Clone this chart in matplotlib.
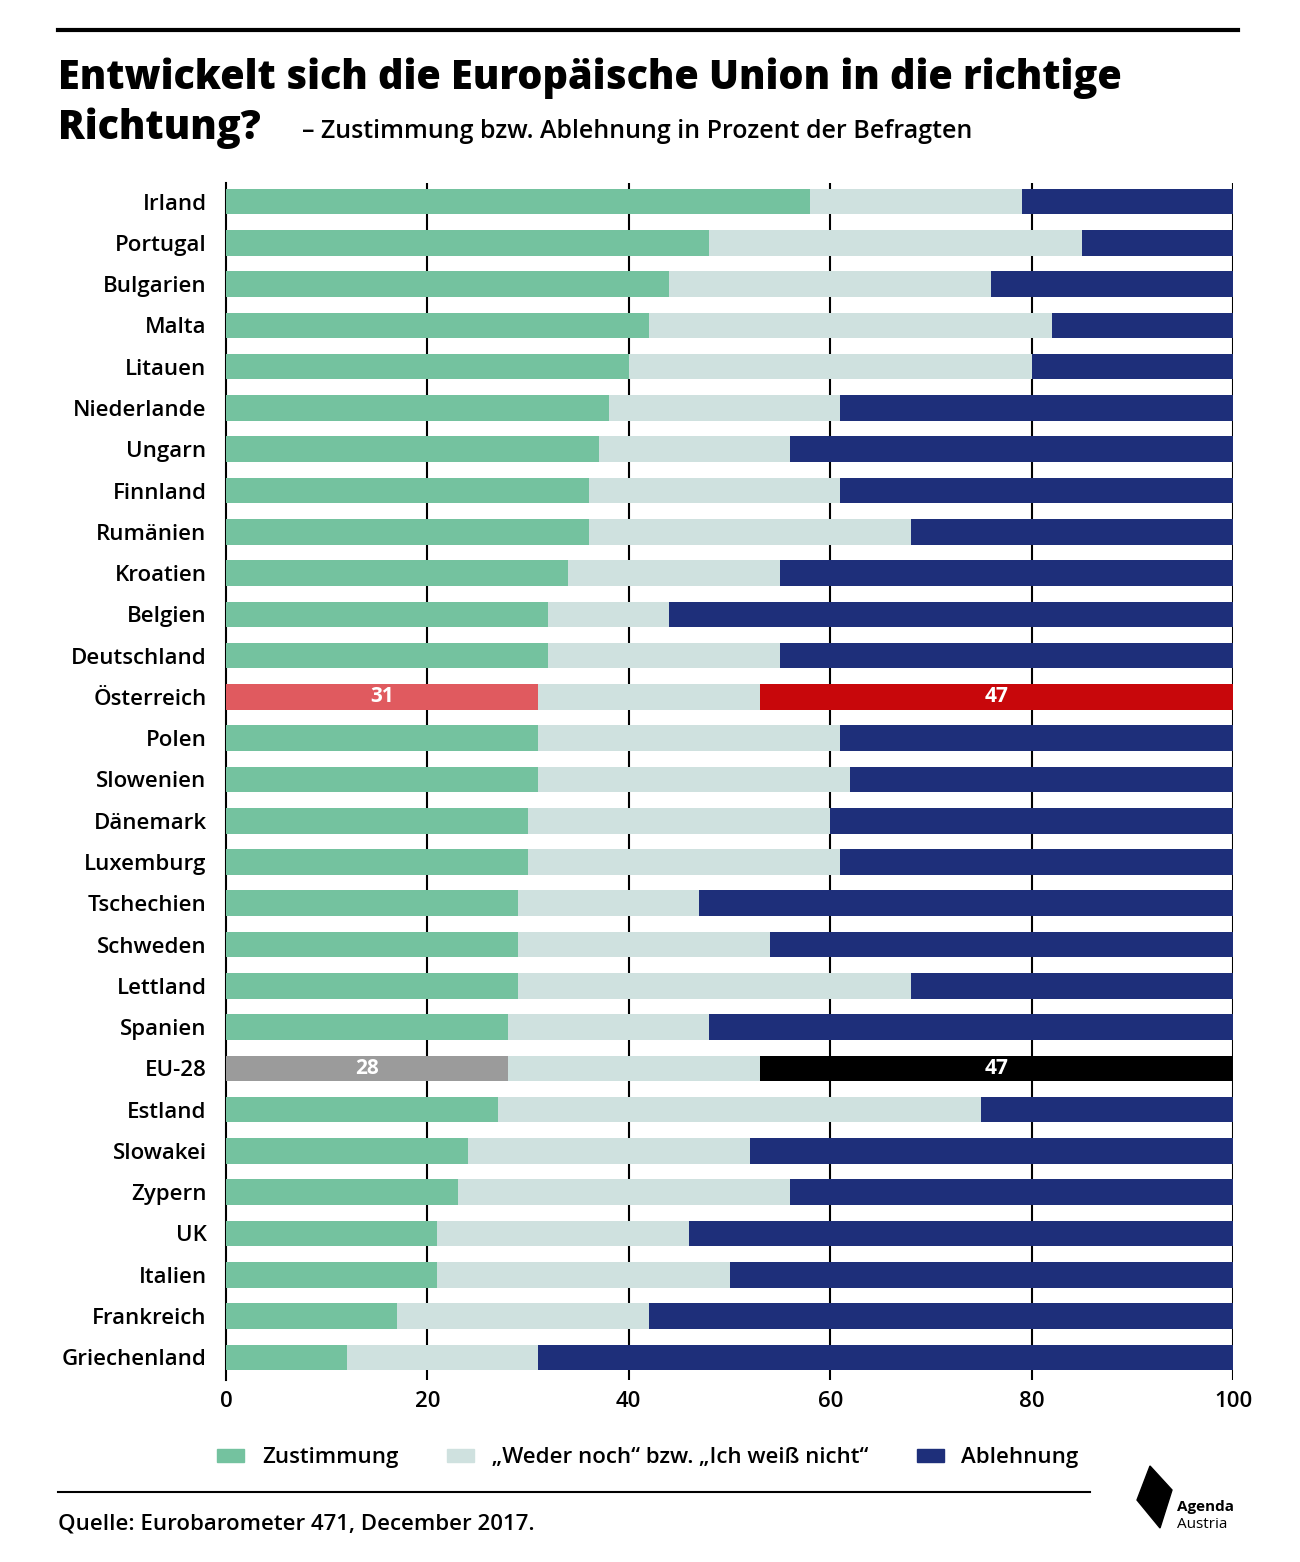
import matplotlib
matplotlib.use("Agg")
import matplotlib.pyplot as plt
from matplotlib.patches import Patch, Polygon
from matplotlib.lines import Line2D

plt.rcParams['font.family'] = ['Open Sans', 'DejaVu Sans']

countries = ["Irland","Portugal","Bulgarien","Malta","Litauen","Niederlande","Ungarn","Finnland",
             "Rumänien","Kroatien","Belgien","Deutschland","Österreich","Polen","Slowenien","Dänemark",
             "Luxemburg","Tschechien","Schweden","Lettland","Spanien","EU-28","Estland","Slowakei",
             "Zypern","UK","Italien","Frankreich","Griechenland"]
agree   = [58,48,44,42,40,38,37,36,36,34,32,32,31,31,31,30,30,29,29,29,28,28,27,24,23,21,21,17,12]
neutral = [21,37,32,40,40,23,19,25,32,21,12,23,22,30,31,30,31,18,25,39,20,25,48,28,33,25,29,25,19]
reject  = [21,15,24,18,20,39,44,39,32,45,56,45,47,39,38,40,39,53,46,32,52,47,25,48,44,54,50,58,69]

GREEN, GREY, NAVY = "#74c29f", "#cfe1df", "#1e2f7a"

W, H = 1300, 1562
fig = plt.figure(figsize=(W/100, H/100), dpi=100)
ax = fig.add_axes([226/W, 1-1380/H, (1233-226)/W, (1380-183)/H])

n = len(countries)
ys = list(range(n))
for i, c in enumerate(countries):
    ca, cn, cr = GREEN, GREY, NAVY
    if c == "Österreich":
        ca, cr = "#e05a5f", "#c8070b"
    elif c == "EU-28":
        ca, cr = "#9b9b9b", "#000000"
    ax.barh(i, agree[i], color=ca, height=0.62, zorder=3)
    ax.barh(i, neutral[i], left=agree[i], color=cn, height=0.62, zorder=3)
    ax.barh(i, reject[i], left=agree[i]+neutral[i], color=cr, height=0.62, zorder=3)
    if c in ("Österreich", "EU-28"):
        ax.text(agree[i]/2, i, str(agree[i]), color="white", ha="center", va="center",
                fontsize=15, fontweight="bold", zorder=4)
        ax.text(agree[i]+neutral[i]+reject[i]/2, i, str(reject[i]), color="white",
                ha="center", va="center", fontsize=15, fontweight="bold", zorder=4)

ax.set_ylim(n-0.45, -0.45)
ax.set_xlim(0, 100)
ax.set_yticks(ys)
ax.set_yticklabels(countries, fontsize=16, fontweight="semibold")
ax.set_xticks([0,20,40,60,80,100])
ax.tick_params(axis='x', labelsize=16, length=0, pad=8)
ax.tick_params(axis='y', length=0, pad=14)
for x in [20,40,60,80,100]:
    ax.axvline(x, color="black", lw=1.5, zorder=1)
for s in ["top","right","bottom"]:
    ax.spines[s].set_visible(False)
ax.spines["left"].set_linewidth(1.5)
for lbl in ax.get_xticklabels():
    lbl.set_fontweight("semibold")

fig.add_artist(Line2D([58/W, 1238/W], [1-30/H, 1-30/H], color="black", lw=3))
fig.text(58/W, 1-78/H, "Entwickelt sich die Europäische Union in die richtige",
         fontsize=28.5, fontweight="extra bold", va="center")
fig.text(58/W, 1-128/H, "Richtung?", fontsize=28.5, fontweight="extra bold", va="center")
fig.text(302/W, 1-132/H, "– Zustimmung bzw. Ablehnung in Prozent der Befragten",
         fontsize=18, fontweight="semibold", va="center")

handles = [Patch(color=GREEN), Patch(color=GREY), Patch(color=NAVY)]
labels = ["Zustimmung", "„Weder noch“ bzw. „Ich weiß nicht“", "Ablehnung"]
fig.legend(handles, labels, loc="center", bbox_to_anchor=(648/W, 1-1458/H), ncol=3,
           frameon=False, handlelength=1.2, handleheight=0.5,
           columnspacing=2.2, prop={'weight': 'semibold', 'size': 16})

fig.add_artist(Line2D([58/W, 1090/W], [1-1492/H, 1-1492/H], color="black", lw=1.5))
fig.text(58/W, 1-1524/H, "Quelle: Eurobarometer 471, December 2017.", fontsize=16,
         fontweight="semibold", va="center")
fig.text(1177/W, 1-1507/H, "Agenda", fontsize=11, fontweight="bold", va="center")
fig.text(1177/W, 1-1524/H, "Austria", fontsize=11, va="center")
fig.add_artist(Polygon([(1150/W,1-1466/H),(1172/W,1-1490/H),(1160/W,1-1528/H),(1137/W,1-1500/H)],
                       closed=True, color="black", transform=fig.transFigure))

fig.savefig("out.png", dpi=100, facecolor="white")
